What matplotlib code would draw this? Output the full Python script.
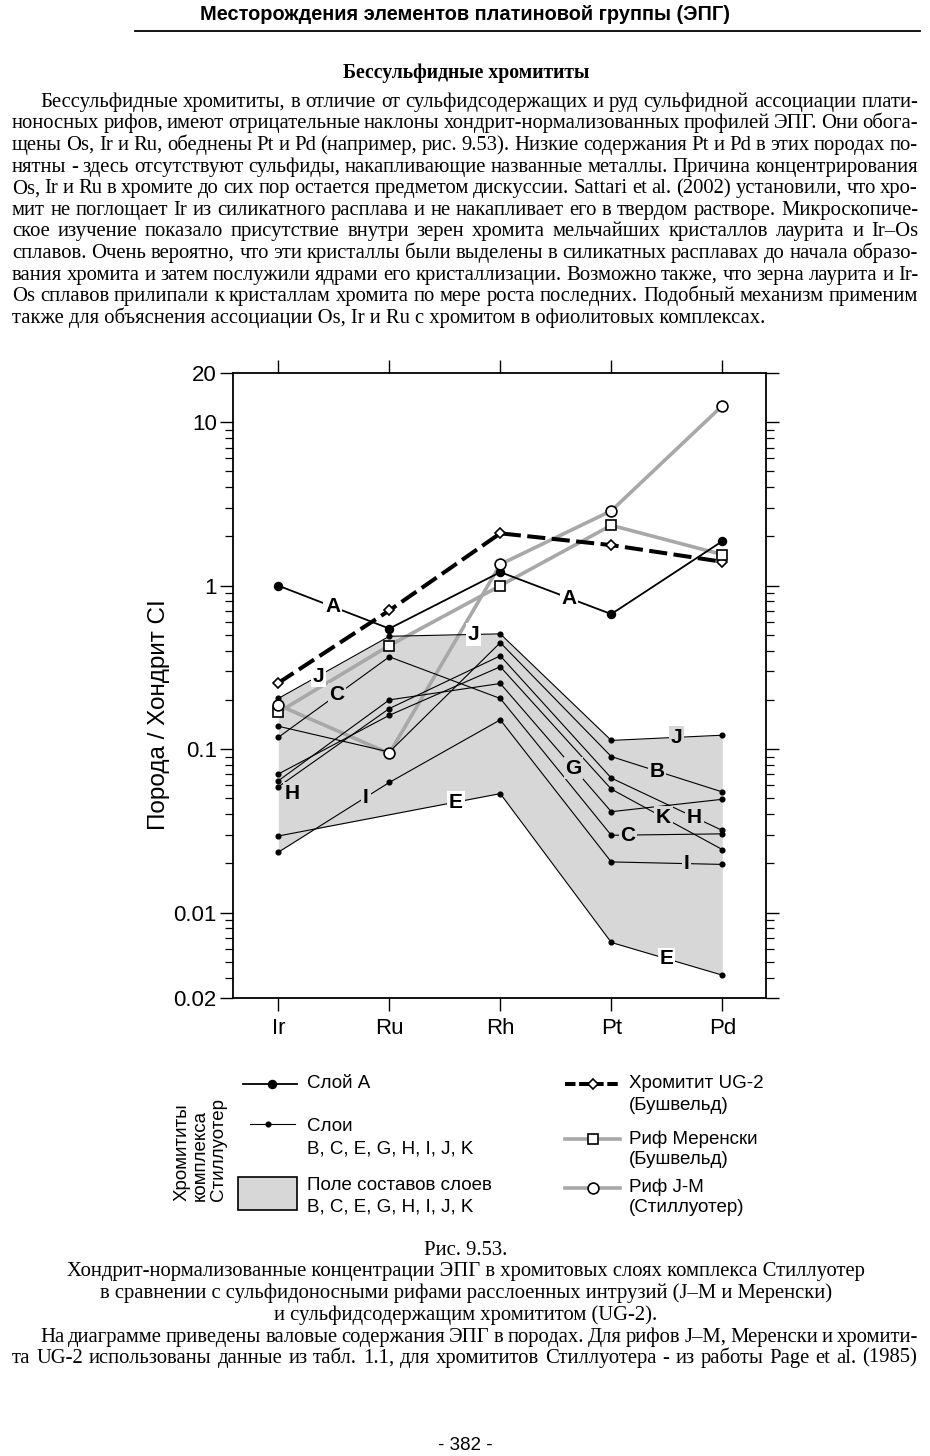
import numpy as np
import matplotlib
matplotlib.use('Agg')
import matplotlib.pyplot as plt
from matplotlib.font_manager import FontProperties
from matplotlib.ticker import FixedLocator, NullLocator
from matplotlib.patches import Rectangle

plt.rcParams['font.family'] = ['Liberation Sans', 'DejaVu Sans']

# ---------------- data ----------------
elements = ['Ir', 'Ru', 'Rh', 'Pt', 'Pd']
layer_A = [1.0, 0.546, 1.21, 0.67, 1.87]
ug2 = [0.254, 0.705, 2.09, 1.77, 1.40]
merensky = [0.168, 0.43, 1.0, 2.34, 1.55]
jm = [0.186, 0.094, 1.35, 2.87, 12.6]
layer_B = [0.138, 0.096, 0.448, 0.090, 0.0547]
layer_C = [0.118, 0.367, 0.204, 0.0297, 0.0303]
layer_E = [0.0294, np.nan, 0.0534, 0.00656, 0.00414]
layer_G = [0.064, 0.200, 0.252, 0.0414, 0.0493]
layer_H = [0.0588, 0.177, 0.372, 0.0665, 0.0318]
layer_I = [0.0234, 0.0625, 0.151, 0.0204, 0.0197]
layer_J = [0.204, 0.49, 0.507, 0.113, 0.1216]
layer_K = [0.0704, 0.161, 0.319, 0.0569, 0.0243]
thin_layers = {'B': layer_B, 'C': layer_C, 'E': layer_E, 'G': layer_G,
               'H': layer_H, 'I': layer_I, 'J': layer_J, 'K': layer_K}

ytick_vals = [20, 10, 1, 0.1, 0.01, 0.003]
ytick_labels = ['20', '10', '1', '0.1', '0.01', '0.02']
ylabel = 'Порода / Хондрит CI'

header = 'Месторождения элементов платиновой группы (ЭПГ)'
title = 'Бессульфидные хромититы'
paragraph = [
    'Бессульфидные хромититы, в отличие от сульфидсодержащих и руд сульфидной ассоциации плати-',
    'ноносных рифов, имеют отрицательные наклоны хондрит-нормализованных профилей ЭПГ. Они обога-',
    'щены Os, Ir и Ru, обеднены Pt и Pd (например, рис. 9.53). Низкие содержания Pt и Pd в этих породах по-',
    'нятны - здесь отсутствуют сульфиды, накапливающие названные металлы. Причина концентрирования',
    'Os, Ir и Ru в хромите до сих пор остается предметом дискуссии. Sattari et al. (2002) установили, что хро-',
    'мит не поглощает Ir из силикатного расплава и не накапливает его в твердом растворе. Микроскопиче-',
    'ское изучение показало присутствие внутри зерен хромита мельчайших кристаллов лаурита и Ir–Os',
    'сплавов. Очень вероятно, что эти кристаллы были выделены в силикатных расплавах до начала образо-',
    'вания хромита и затем послужили ядрами его кристаллизации. Возможно также, что зерна лаурита и Ir-',
    'Os сплавов прилипали к кристаллам хромита по мере роста последних. Подобный механизм применим',
    'также для объяснения ассоциации Os, Ir и Ru с хромитом в офиолитовых комплексах.',
]
caption_center = [
    'Рис. 9.53.',
    'Хондрит-нормализованные концентрации ЭПГ в хромитовых слоях комплекса Стиллуотер',
    'в сравнении с сульфидоносными рифами расслоенных интрузий (J–M и Меренски)',
    'и сульфидсодержащим хромититом (UG-2).',
]
caption_note = [
    'На диаграмме приведены валовые содержания ЭПГ в породах. Для рифов J–M, Меренски и хромити-',
    'та UG-2 использованы данные из табл. 1.1, для хромититов Стиллуотера - из работы Page et al. (1985)',
]
page_number = '- 382 -'

# ---------------- figure ----------------
W, H = 930, 1456
fig = plt.figure(figsize=(W / 100, H / 100), dpi=100)
fig.patch.set_facecolor('white')
ov = fig.add_axes([0, 0, 1, 1], zorder=0)
ov.set_xlim(0, W)
ov.set_ylim(H, 0)
ov.axis('off')
renderer = fig.canvas.get_renderer()


def tw(s, fp):
    return renderer.get_text_width_height_descent(s, fp, ismath=False)[0]


serif = ['Liberation Serif', 'DejaVu Serif']
fp10 = FontProperties(family=serif, size=10)
body_size = 10 * 758 / tw(paragraph[-1], fp10)
fp_body = FontProperties(family=serif, size=body_size)


def put_line(s, yc, fp, left, right=None, align='left'):
    y = yc + 0.28 * fp.get_size_in_points() * 100 / 72.0
    if align == 'justify':
        words = s.split(' ')
        widths = [tw(w_, fp) for w_ in words]
        gap = (right - left - sum(widths)) / (len(words) - 1)
        x = left
        for w_, wd in zip(words, widths):
            ov.text(x, y, w_, fontproperties=fp, ha='left', va='baseline')
            x += wd + gap
    elif align == 'center':
        ov.text(left, y, s, fontproperties=fp, ha='center', va='baseline')
    else:
        ov.text(left, y, s, fontproperties=fp, ha='left', va='baseline')


# header
fph10 = FontProperties(family=['Liberation Sans', 'DejaVu Sans'], weight='bold', size=10)
fp_head = FontProperties(family=['Liberation Sans', 'DejaVu Sans'], weight='bold',
                         size=10 * 530 / tw(header, fph10))
put_line(header, 14, fp_head, 465, align='center')
ov.plot([135, 920], [31, 31], color='black', lw=1.3)

fpt10 = FontProperties(family=serif, weight='bold', size=10)
fp_title = FontProperties(family=serif, weight='bold', size=10 * 248 / tw(title, fpt10))
put_line(title, 72, fp_title, 466, align='center')

for k, line in enumerate(paragraph):
    yc = 101 + k * 21.6
    left = 40 if k == 0 else 12
    if k == len(paragraph) - 1:
        put_line(line, yc, fp_body, left)
    else:
        put_line(line, yc, fp_body, left, 918, align='justify')

for k, line in enumerate(caption_center):
    put_line(line, 1249 + k * 21.6, fp_body, 466, align='center')
put_line(caption_note[0], 1336, fp_body, 40, 918, align='justify')
put_line(caption_note[1], 1357, fp_body, 12, 917, align='justify')

ov.text(465, 1445, page_number, fontsize=13.5, ha='center', va='center',
        family=['Liberation Sans', 'DejaVu Sans'])

# ---------------- chart ----------------
field_color = '#d7d7d7'
gray = '#a8a8a8'
ax = fig.add_axes([232.7 / W, 1 - 998 / H, (766 - 232.7) / W, (998 - 373) / H], zorder=2)
ax.set_yscale('log')
ax.set_xlim(-0.411, 4.394)
ax.set_ylim(0.003, 20)
xi = np.arange(len(elements))


def valid(vals):
    xs = [k for k, v in enumerate(vals) if not np.isnan(v)]
    return np.array(xs), np.array([vals[k] for k in xs])


# compositional field (envelope of layers B..K)
xd = np.linspace(0, len(elements) - 1, 801)
logs = []
for vals in thin_layers.values():
    xs, vs = valid(vals)
    logs.append(np.interp(xd, xs, np.log10(vs)))
logs = np.array(logs)
ax.fill_between(xd, 10 ** logs.min(axis=0), 10 ** logs.max(axis=0),
                color=field_color, lw=0, zorder=1)

# grey reef lines
ax.plot(xi, merensky, color=gray, lw=2.6, zorder=2, solid_capstyle='round')
ax.plot(xi, jm, color=gray, lw=2.6, zorder=2, solid_capstyle='round')

for name, vals in thin_layers.items():
    xs, vs = valid(vals)
    ax.plot(xs, vs, color='black', lw=0.8, marker='o', ms=3.4, zorder=3)

ax.plot(xi, layer_A, color='black', lw=1.3, marker='o', ms=5.8, zorder=4)
ax.plot(xi, ug2, color='black', lw=2.9, dashes=(4.5, 1.6), zorder=4)

ax.plot(xi, ug2, ls='none', marker='D', ms=5.6, mfc='white', mec='black', mew=1.2, zorder=7)
ax.plot(xi, merensky, ls='none', marker='s', ms=7.2, mfc='white', mec='black', mew=1.2, zorder=7)
ax.plot(xi, jm, ls='none', marker='o', ms=7.8, mfc='white', mec='black', mew=1.2, zorder=7)


def label_on(vals, i, t, s, bg, dx=0, dy=0):
    xs, vs = valid(vals)
    idx = list(xs).index(i)
    x0, x1 = xs[idx], xs[idx + 1]
    l0, l1 = np.log10(vs[idx]), np.log10(vs[idx + 1])
    x = x0 + t * (x1 - x0)
    y = 10 ** (l0 + t * (l1 - l0))
    ax.annotate(s, (x, y), xytext=(dx, dy), textcoords='offset points',
                ha='center', va='center', fontsize=15, fontweight='bold',
                bbox=dict(boxstyle='square,pad=0.08', fc=bg, ec='none'), zorder=6)


label_on(layer_A, 0, 0.49, 'A', 'white')
label_on(layer_A, 2, 0.62, 'A', 'white')
label_on(layer_J, 0, 0.36, 'J', 'white')
label_on(layer_J, 1, 0.76, 'J', 'white')
label_on(layer_J, 3, 0.59, 'J', field_color)
label_on(layer_C, 0, 0.53, 'C', field_color)
label_on(layer_C, 3, 0.15, 'C', field_color)
label_on(layer_H, 0, 0.0, 'H', field_color, dx=10, dy=-4.5)
label_on(layer_H, 3, 0.75, 'H', field_color)
label_on(layer_I, 0, 0.79, 'I', field_color)
label_on(layer_I, 3, 0.68, 'I', field_color)
label_on(layer_E, 0, 0.80, 'E', 'white')
label_on(layer_E, 3, 0.50, 'E', 'white')
label_on(layer_G, 2, 0.66, 'G', field_color)
label_on(layer_B, 3, 0.41, 'B', field_color)
label_on(layer_K, 3, 0.47, 'K', field_color)

ax.set_xticks(xi)
ax.set_xticklabels(elements)
ax.xaxis.set_minor_locator(NullLocator())
ax.set_yticks(ytick_vals)
ax.set_yticklabels(ytick_labels)
minor = [m * 10.0 ** e for e in range(-3, 1) for m in range(2, 10) if m * 10.0 ** e > 0.0031]
ax.yaxis.set_minor_locator(FixedLocator(minor))
ax.tick_params(axis='both', which='major', direction='out', length=9.5, width=1.0,
               labelsize=16, top=True, right=True, labeltop=False, labelright=False)
ax.tick_params(axis='y', which='minor', direction='out', length=5.5, width=0.9,
               left=True, right=True)
ax.tick_params(axis='y', which='major', pad=2)
ax.tick_params(axis='x', which='major', pad=5)
for sp in ax.spines.values():
    sp.set_linewidth(1.3)
ax.text(-0.138, 0.453, ylabel, transform=ax.transAxes, rotation=90,
        ha='center', va='center', fontsize=17.5)

# ---------------- legend ----------------
lfs = 13.5
ov.plot([243, 297], [1084, 1084], color='black', lw=1.3)
ov.plot([272], [1084], 'o', color='black', ms=5.8)
ov.text(307, 1084, 'Слой А', fontsize=lfs, va='center', ha='left')

ov.plot([250, 295], [1123.5, 1123.5], color='black', lw=0.8)
ov.plot([268], [1123.5], 'o', color='black', ms=3.4)
ov.text(307, 1126.5, 'Слои', fontsize=lfs, va='center', ha='left')
ov.text(307, 1149, 'B, C, E, G, H, I, J, K', fontsize=lfs, va='center', ha='left')

ov.add_patch(Rectangle((238.3, 1177.3), 58.4, 32.7, fc=field_color, ec='black', lw=1.2))
ov.text(307, 1186, 'Поле составов слоев', fontsize=lfs, va='center', ha='left')
ov.text(307, 1206.5, 'B, C, E, G, H, I, J, K', fontsize=lfs, va='center', ha='left')

ov.text(200, 1201, 'Хромититы\nкомплекса\nСтиллуотер', fontsize=lfs, rotation=90,
        ha='center', va='bottom', multialignment='left', linespacing=1.1)

ov.plot([565, 621], [1084, 1084], color='black', lw=2.9, dashes=(2.6, 0.9))
ov.plot([593.3], [1084], ls='none', marker='D', ms=5.6, mfc='white', mec='black', mew=1.2)
ov.text(629, 1084, 'Хромитит UG-2', fontsize=lfs, va='center', ha='left')
ov.text(629, 1105, '(Бушвельд)', fontsize=lfs, va='center', ha='left')

ov.plot([565, 620], [1139, 1139], color=gray, lw=2.6)
ov.plot([592.7], [1139], ls='none', marker='s', ms=7.2, mfc='white', mec='black', mew=1.2)
ov.text(629, 1139, 'Риф Меренски', fontsize=lfs, va='center', ha='left')
ov.text(629, 1160, '(Бушвельд)', fontsize=lfs, va='center', ha='left')

ov.plot([565, 620], [1187.5, 1187.5], color=gray, lw=2.6)
ov.plot([592.7], [1187.5], ls='none', marker='o', ms=7.8, mfc='white', mec='black', mew=1.2)
ov.text(629, 1187.5, 'Риф J-M', fontsize=lfs, va='center', ha='left')
ov.text(629, 1208, '(Стиллуотер)', fontsize=lfs, va='center', ha='left')

fig.savefig('out.png', dpi=100, facecolor='white')
